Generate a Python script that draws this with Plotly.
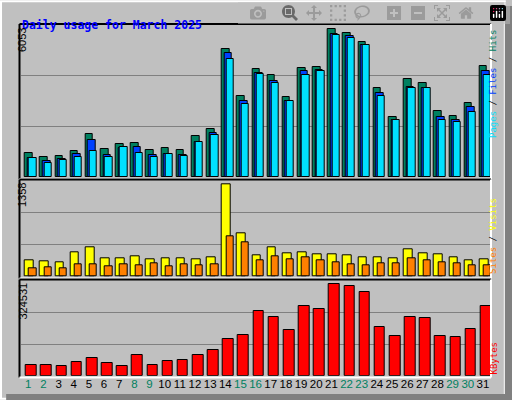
import plotly.graph_objects as go

days = list(range(1, 32))
weekend = [1, 2, 8, 9, 15, 16, 22, 23, 29, 30]

hits = [971, 811, 851, 1051, 1729, 1131, 1330, 1370, 1091, 1170, 1091, 1649, 1929, 5081, 3245, 4283,
        4043, 3205, 4323, 4362, 5879, 5719, 5360, 3525, 2407, 3884, 3724, 2647, 2447, 2966, 4402]
files = [772, 652, 732, 931, 1490, 891, 1170, 1210, 891, 931, 891, 1410, 1769, 4921, 3046, 4123,
         3804, 3046, 4203, 4243, 5679, 5599, 5240, 3365, 2288, 3604, 3525, 2407, 2288, 2806, 4203]
pages = [772, 545, 692, 811, 1051, 811, 1210, 971, 811, 931, 851, 1410, 1689, 4682, 2926, 4083,
         3724, 3046, 4043, 4203, 5639, 5520, 5240, 3245, 2288, 3525, 3525, 2288, 2208, 2607, 4043]
sites = [230, 216, 202, 343, 414, 259, 259, 287, 244, 259, 259, 244, 273, 1302, 611, 301,
         414, 329, 343, 315, 315, 301, 273, 273, 259, 385, 329, 315, 273, 230, 244]
visits = [118, 132, 118, 174, 174, 146, 174, 160, 188, 146, 174, 160, 174, 569, 484, 230,
          287, 244, 273, 230, 202, 174, 160, 188, 188, 259, 230, 202, 188, 160, 160]
kbytes = [36566, 36566, 31996, 45708, 59420, 42280, 31996, 69705, 35424, 49136, 52564, 69705,
          86845, 124554, 138267, 220541, 199973, 155407, 237682, 227398, 313100, 306244, 285675,
          165692, 134839, 199973, 196544, 134839, 131411, 158835, 237682]
max_hits, max_sites, max_kb = 6053, 1358, 324531

BG = "#c0c0c0"
fig = go.Figure()

def bar(y, color, off, w, ax):
    fig.add_trace(go.Bar(x=days, y=y, offset=off, width=w, marker_color=color,
                         marker_line=dict(color="black", width=1), xaxis="x" + ax, yaxis="y" + ax,
                         showlegend=False, hoverinfo="skip"))

bar(hits, "#008060", -0.22, 0.5, "")
bar(files, "#0040ff", -0.05, 0.5, "")
bar(pages, "#00e0ff", 0.06, 0.48, "")
bar(sites, "#ffff00", -0.22, 0.57, "2")
bar(visits, "#ff8000", 0.06, 0.48, "2")
bar(kbytes, "#ff0000", -0.15, 0.7, "3")

xd = [20.7 / 512, 490.5 / 512]
doms = [[1 - 177 / 400, 1 - 25 / 400], [1 - 276.7 / 400, 1 - 180.3 / 400], [1 - 375.7 / 400, 1 - 281 / 400]]
maxes = [max_hits, max_sites, max_kb]

layout = dict(width=512, height=400, margin=dict(l=0, r=0, t=0, b=0),
              paper_bgcolor=BG, plot_bgcolor=BG, barmode="overlay", bargap=0)
for i, (d, m) in enumerate(zip(doms, maxes)):
    sfx = "" if i == 0 else str(i + 1)
    layout["xaxis" + sfx] = dict(domain=xd, range=[0.5, 31.5], anchor="y" + sfx, showgrid=False,
                                 zeroline=False, showticklabels=(i == 2), ticks="", tickangle=0,
                                 tickvals=days, fixedrange=True, automargin=False,
                                 ticktext=[f"<span style='color:{'#008060' if d_ in weekend else 'black'}'>{d_}</span>" for d_ in days],
                                 tickfont=dict(family="Liberation Sans", size=11.5, color="black"))
    layout["yaxis" + sfx] = dict(domain=d, range=[0, m], anchor="x" + sfx, tickvals=[m / 3, 2 * m / 3],
                                 showticklabels=False, gridcolor="#808080", gridwidth=1, zeroline=False)
fig.update_layout(**layout)

# frames
shapes = [
    dict(type="rect", xref="paper", yref="paper", x0=0.002, y0=0.003, x1=0.986, y1=0.997,
         line=dict(color="white", width=2)),
    dict(type="rect", xref="paper", yref="paper", x0=0.986, y0=0, x1=1, y1=0.985,
         fillcolor="#808080", line=dict(width=0)),
    dict(type="rect", xref="paper", yref="paper", x0=0.012, y0=0, x1=1, y1=0.015,
         fillcolor="#808080", line=dict(width=0)),
]
for d in [[1 - 179 / 400, 1 - 24 / 400], [1 - 278.5 / 400, 1 - 179.5 / 400], [1 - 377.5 / 400, 1 - 279.5 / 400]]:
    shapes += [
        dict(type="line", xref="paper", yref="paper", x0=19.5 / 512, x1=19.5 / 512, y0=d[0], y1=d[1],
             line=dict(color="black", width=2)),
        dict(type="line", xref="paper", yref="paper", x0=19.5 / 512, x1=491 / 512, y0=d[1], y1=d[1],
             line=dict(color="black", width=2)),
        dict(type="line", xref="paper", yref="paper", x0=491 / 512, x1=491 / 512, y0=d[0], y1=d[1],
             line=dict(color="white", width=2)),
        dict(type="line", xref="paper", yref="paper", x0=19.5 / 512, x1=491 / 512, y0=d[0], y1=d[0],
             line=dict(color="white", width=2)),
    ]
fig.update_layout(shapes=shapes)

mono = "DejaVu Sans Mono"
ann = [
    dict(x=20 / 512, y=1 - 16 / 400, text="<b>Daily usage for March 2025</b>", xanchor="left",
         font=dict(family=mono, size=11.5, color="#0000ff")),
    dict(x=14 / 512, y=1 - 26 / 400, text=str(max_hits), textangle=-90, yanchor="top"),
    dict(x=14 / 512, y=1 - 181 / 400, text=str(max_sites), textangle=-90, yanchor="top"),
    dict(x=14 / 512, y=1 - 281 / 400, text=str(max_kb), textangle=-90, yanchor="top"),
    dict(x=500 / 512, y=1 - 28 / 400, yanchor="top", textangle=-90,
         text="<span style='color:#00e0ff'>Pages</span> / <span style='color:#0040ff'>Files</span> / <span style='color:#008060'>Hits</span>",
         font=dict(family=mono, size=9, color="black")),
    dict(x=500 / 512, y=1 - 196 / 400, yanchor="top", textangle=-90,
         text="<span style='color:#ff8000'>Sites</span> / <span style='color:#ffff00'>Visits</span>",
         font=dict(family=mono, size=9, color="black")),
    dict(x=500 / 512, y=1 - 340 / 400, yanchor="top", textangle=-90,
         text="<span style='color:#ff0000'>KBytes</span>",
         font=dict(family=mono, size=9, color="black")),
]
for a in ann:
    a.setdefault("font", dict(family="Liberation Sans", size=11, color="black"))
    a.update(xref="paper", yref="paper", showarrow=False)
fig.update_layout(annotations=ann)

fig.write_html("out.html", post_script="document.body.style.margin='0';")
